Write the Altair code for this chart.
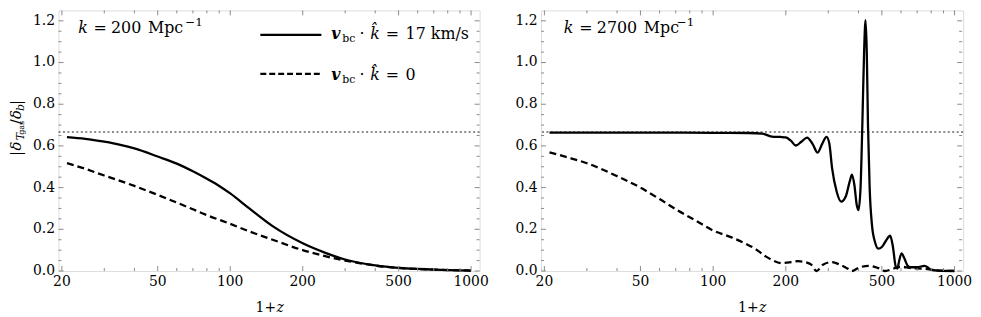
import altair as alt
import pandas as pd

# ---------------- data ----------------
left_x_solid = [21, 25, 30, 35, 40, 50, 60, 70, 80, 90, 100, 120, 150, 200, 250, 300, 400, 500, 700, 1000]
left_y_solid = [0.642, 0.634, 0.620, 0.605, 0.588, 0.549, 0.515, 0.478, 0.442, 0.408, 0.372, 0.300, 0.215,
                0.133, 0.086, 0.055, 0.027, 0.015, 0.007, 0.002]

left_x_dashed = [21, 25, 30, 40, 50, 60, 70, 80, 100, 120, 150, 200, 250, 300, 400, 500, 700, 1000]
left_y_dashed = [0.517, 0.490, 0.458, 0.408, 0.365, 0.328, 0.296, 0.268, 0.226, 0.190, 0.150, 0.100, 0.070,
                 0.050, 0.026, 0.015, 0.007, 0.002]

right_x_solid = [21, 50, 100, 140, 160, 175, 190, 200, 210, 220, 232, 245, 258, 271, 283, 295, 303, 311, 325,
                 339, 355, 368, 376, 385, 393, 400, 408, 415, 422, 428, 433, 438, 445, 455, 468, 483, 500, 520,
                 541, 555, 571, 580, 590, 603, 620, 640, 662, 700, 752, 780, 802, 850, 1000]
right_y_solid = [0.664, 0.664, 0.663, 0.662, 0.659, 0.645, 0.643, 0.641, 0.625, 0.602, 0.620, 0.640, 0.610,
                 0.568, 0.610, 0.643, 0.610, 0.493, 0.380, 0.333, 0.360, 0.430, 0.462, 0.410, 0.320, 0.292,
                 0.400, 0.700, 1.050, 1.203, 1.050, 0.700, 0.400, 0.220, 0.140, 0.107, 0.115, 0.145, 0.169,
                 0.120, 0.020, 0.012, 0.050, 0.084, 0.060, 0.025, 0.018, 0.018, 0.025, 0.015, 0.005, 0.002, 0.0]

right_x_dashed = [21, 25, 30, 40, 50, 60, 70, 85, 100, 120, 137, 150, 165, 176, 192, 210, 225, 240, 255, 268,
                  285, 311, 335, 360, 376, 400, 440, 480, 515, 560, 603, 650, 700, 752, 850, 1000]
right_y_dashed = [0.569, 0.545, 0.517, 0.455, 0.400, 0.345, 0.296, 0.241, 0.194, 0.160, 0.130, 0.105, 0.070,
                  0.052, 0.038, 0.042, 0.047, 0.043, 0.030, 0.0, 0.030, 0.043, 0.030, 0.012, 0.0, 0.015,
                  0.025, 0.015, 0.0, 0.012, 0.020, 0.015, 0.012, 0.010, 0.003, 0.0]

reference_level = [2 / 3]

x_major = [20, 50, 100, 200, 500, 1000]
x_major_labels = ["20", "50", "100", "200", "500", "1000"]
x_minor = [30, 40, 60, 70, 80, 90, 300, 400, 600, 700, 800, 900]
y_major = [0.0, 0.2, 0.4, 0.6, 0.8, 1.0, 1.2]
y_major_labels = ["0.0", "0.2", "0.4", "0.6", "0.8", "1.0", "1.2"]
y_minor = [0.05, 0.1, 0.15, 0.25, 0.3, 0.35, 0.45, 0.5, 0.55, 0.65, 0.7, 0.75, 0.85, 0.9, 0.95,
           1.05, 1.1, 1.15]

x_title_num = "1+"
x_title_var = "z"
k_labels = ["200", "2700"]
legend_values = ["17 km/s", "0"]

# ---------------- style ----------------
W, H = 425, 263
FONT = "DejaVu Serif"
FRAME = "#8a8a8a"
xscale = alt.Scale(type="log", domain=[19.37, 1085], nice=False)
yscale = alt.Scale(domain=[0, 1.25], nice=False, zero=False)
one = pd.DataFrame({"a": [0]})


def txt(s, x, y, size=16, style="normal", weight="normal", align="left", angle=0, baseline="alphabetic"):
    return alt.Chart(one).mark_text(
        text=s, font=FONT, fontSize=size, fontStyle=style, fontWeight=weight,
        align=align, baseline=baseline, angle=angle, color="black"
    ).encode(x=alt.value(x), y=alt.value(y))


def ticks_and_labels():
    layers = []
    for vals, ln in ((x_major, 5), (x_minor, 3)):
        df = pd.DataFrame({"tx": vals})
        for y0, y1 in ((H, H - ln), (0, ln)):
            layers.append(alt.Chart(df).mark_rule(color=FRAME, strokeWidth=1).encode(
                x=alt.X("tx:Q", scale=xscale, axis=None), y=alt.value(y0), y2=alt.value(y1)))
    for vals, ln in ((y_major, 5), (y_minor, 3)):
        df = pd.DataFrame({"ty": vals})
        for x0, x1 in ((0, ln), (W, W - ln)):
            layers.append(alt.Chart(df).mark_rule(color=FRAME, strokeWidth=1).encode(
                y=alt.Y("ty:Q", scale=yscale, axis=None), x=alt.value(x0), x2=alt.value(x1)))
    xl = pd.DataFrame({"tx": x_major, "lab": x_major_labels})
    layers.append(alt.Chart(xl).mark_text(font=FONT, fontSize=14, color="black", align="center",
                                          baseline="alphabetic").encode(
        x=alt.X("tx:Q", scale=xscale, axis=None), y=alt.value(H + 15.5), text="lab:N"))
    yl = pd.DataFrame({"ty": y_major, "lab": y_major_labels})
    layers.append(alt.Chart(yl).mark_text(font=FONT, fontSize=14, color="black", align="right",
                                          baseline="middle").encode(
        y=alt.Y("ty:Q", scale=yscale, axis=None), x=alt.value(-3.5), text="lab:N"))
    return layers


def curve(xs, ys, dashed=False):
    df = pd.DataFrame({"x": xs, "y": ys})
    kw = dict(interpolate="monotone", color="black", strokeWidth=2.3)
    if dashed:
        kw["strokeDash"] = [7, 4]
    return alt.Chart(df).mark_line(**kw).encode(
        x=alt.X("x:Q", scale=xscale, axis=None),
        y=alt.Y("y:Q", scale=yscale, axis=None))


def dotted():
    return alt.Chart(pd.DataFrame({"r": reference_level})).mark_rule(
        color="#1a1a1a", strokeWidth=1.1, strokeDash=[2, 2.5]).encode(y=alt.Y("r:Q", scale=yscale, axis=None))


def k_label(val, xk, xeq, xnum, xmpc, xsup):
    return [
        txt("k", xk, 23, size=16, style="italic"),
        txt("=", xeq, 23, size=16),
        txt(val, xnum, 23, size=16),
        txt("Mpc", xmpc, 23, size=16),
        txt("\u22121", xsup, 15.5, size=12),
    ]


def x_title():
    return [txt(x_title_num, 219.5, 304, size=14, align="right"),
            txt(x_title_var, 220, 304, size=14, style="italic")]


# ---------------- left panel ----------------
left_layers = [dotted(), curve(left_x_dashed, left_y_dashed, dashed=True),
               curve(left_x_solid, left_y_solid)]
left_layers += ticks_and_labels()
left_layers += k_label(k_labels[0], 20, 35.3, 53, 90.3, 128)
left_layers += x_title()

# legend
left_layers.append(alt.Chart(one).mark_rule(color="black", strokeWidth=2.4).encode(
    x=alt.value(203.7), x2=alt.value(265.3), y=alt.value(24.7)))
left_layers.append(alt.Chart(one).mark_rule(color="black", strokeWidth=2.4, strokeDash=[6, 3]).encode(
    x=alt.value(203.7), x2=alt.value(265.3), y=alt.value(64)))
for base, val in ((28.5, legend_values[0]), (70.5, legend_values[1])):
    left_layers += [
        txt("v", 275.3, base, size=16, style="italic", weight="bold"),
        txt("bc", 286.3, base + 3, size=11),
        txt("\u00b7", 306.3, base, size=16, align="center"),
        txt("k\u0302", 314.7, base, size=16, style="italic"),
        txt("=", 330.3, base, size=16),
        txt(val, 350.3, base, size=16),
    ]

# y title pieces (rotated)
TX = -38.0
left_layers += [
    txt("|", TX, 147, size=15, angle=270),
    txt("\u03b4", TX, 141.5, size=15, style="italic", angle=270),
    txt("T", TX + 3, 131, size=11, style="italic", angle=270),
    txt("gas", TX + 3.5, 125.5, size=8, angle=270),
    txt("/", TX, 115, size=15, angle=270),
    txt("\u03b4", TX, 109.5, size=15, style="italic", angle=270),
    txt("b", TX + 3, 101.5, size=11, style="italic", angle=270),
    txt("|", TX, 95.5, size=15, angle=270),
]

left = alt.layer(*left_layers).properties(width=W, height=H)

# ---------------- right panel ----------------
right_layers = [dotted(), curve(right_x_dashed, right_y_dashed, dashed=True),
                curve(right_x_solid, right_y_solid)]
right_layers += ticks_and_labels()
right_layers += k_label(k_labels[1], 23, 38.7, 56.3, 103.7, 137)
right_layers += x_title()
right = alt.layer(*right_layers).properties(width=W + 1, height=H)

chart = alt.hconcat(left, right, spacing=25).properties(
    padding={"left": 0, "top": 0, "right": 0, "bottom": 0}
).configure_view(stroke=FRAME, strokeWidth=1).configure(background="white")

chart.save("out.html", embed_options={"renderer": "svg", "actions": False})
